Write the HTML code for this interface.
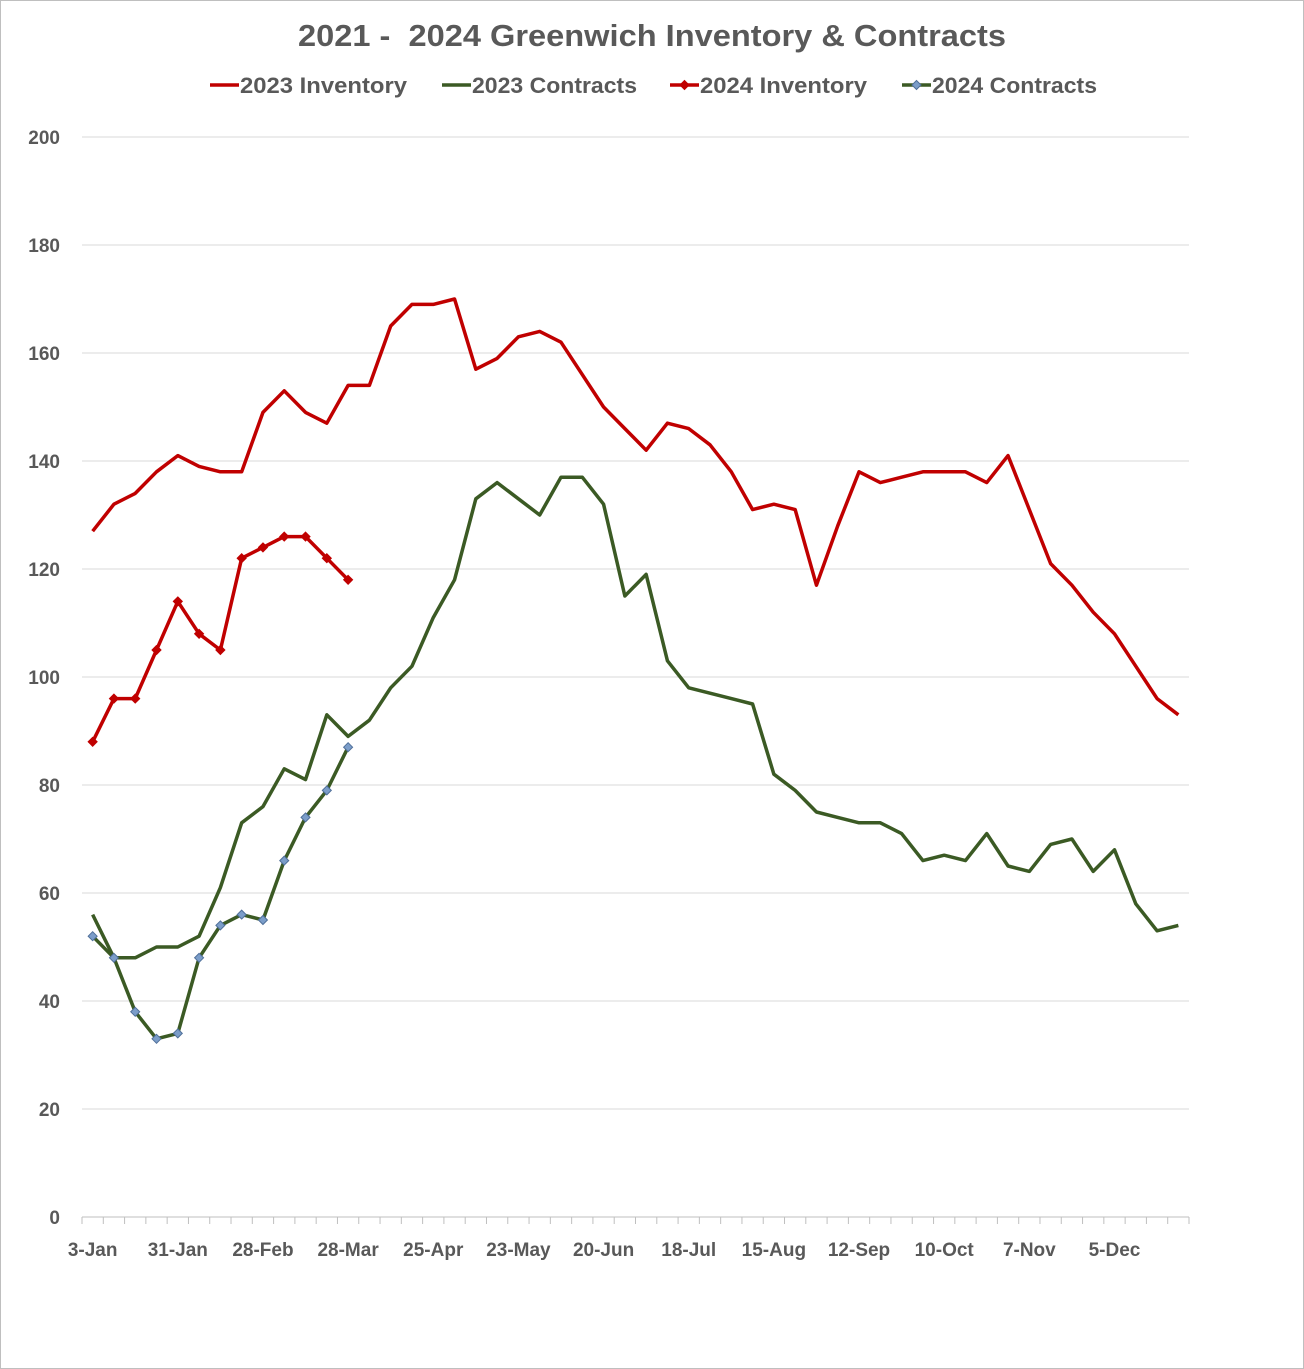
<!DOCTYPE html>
<html><head><meta charset="utf-8"><style>
html,body{margin:0;padding:0;background:#fff;}
svg{display:block;font-family:"Liberation Sans",Arial,sans-serif;}
</style></head><body>
<svg id="chart" width="1304" height="1369" viewBox="0 0 1304 1369" xmlns="http://www.w3.org/2000/svg">
<rect x="0.5" y="0.5" width="1303" height="1368" fill="#fff" stroke="#bfbfbf"/>
<text x="298" y="46" textLength="708" lengthAdjust="spacingAndGlyphs" style="white-space:pre" font-size="31" font-weight="bold" fill="#595959">2021 -  2024 Greenwich Inventory &amp; Contracts</text>
<g id="legend"></g>
<g id="grid"></g>
<g id="yaxis"></g>
<g id="xaxis"></g>
<g id="series"></g>
</svg>
<script>
const tickLabels = ["3-Jan","31-Jan","28-Feb","28-Mar","25-Apr","23-May","20-Jun","18-Jul","15-Aug","12-Sep","10-Oct","7-Nov","5-Dec"];
const yTicks = [0,20,40,60,80,100,120,140,160,180,200];
const inv2023 = [127,132,134,138,141,139,138,138,149,153,149,147,154,154,165,169,169,170,157,159,163,164,162,156,150,146,142,147,146,143,138,131,132,131,117,128,138,136,137,138,138,138,136,141,131,121,117,112,108,102,96,93];
const con2023 = [56,48,48,50,50,52,61,73,76,83,81,93,89,92,98,102,111,118,133,136,133,130,137,137,132,115,119,103,98,97,96,95,82,79,75,74,73,73,71,66,67,66,71,65,64,69,70,64,68,58,53,54];
const inv2024 = [88,96,96,105,114,108,105,122,124,126,126,122,118];
const con2024 = [52,48,38,33,34,48,54,56,55,66,74,79,87];
const nCats = 52;

const NS="http://www.w3.org/2000/svg";
const L=82,R=1189,T=137,B=1217,yMax=200;
const step=(R-L)/nCats;
const xPos=i=>L+step*(i+0.5);
const yPos=v=>B-(v/yMax)*(B-T);
function mk(tag,attrs,parent){const e=document.createElementNS(NS,tag);for(const k in attrs)e.setAttribute(k,attrs[k]);parent.appendChild(e);return e;}

const grid=document.getElementById('grid'),yaxis=document.getElementById('yaxis'),xaxis=document.getElementById('xaxis'),series=document.getElementById('series'),legend=document.getElementById('legend');
yTicks.forEach(v=>{
  if(v>0){const g=mk('line',{x1:L,x2:R,y1:yPos(v),y2:yPos(v),stroke:'#d9d9d9','stroke-width':1},grid);
  
  }
  const t=mk('text',{x:60,y:yPos(v)+7,'text-anchor':'end','font-size':19,'font-weight':'bold',fill:'#595959'},yaxis);
  t.textContent=v;
  
  
});
const ax=mk('line',{x1:L,x2:R,y1:B,y2:B,stroke:'#bfbfbf','stroke-width':1},xaxis);


for(let k=0;k<=nCats;k++){
  const tk=mk('line',{x1:L+step*k,x2:L+step*k,y1:B,y2:B+7,stroke:'#bfbfbf','stroke-width':1},xaxis);
  
  
}
tickLabels.forEach((lab,j)=>{
  const t=mk('text',{x:xPos(j*4),y:B+39,'text-anchor':'middle','font-size':19,'font-weight':'bold',fill:'#595959'},xaxis);
  t.textContent=lab;
  
  
});

function drawSeries(data,color,name,marker,mfill){
  const g=mk('g',{},series);
  
  
  const pts=data.map((v,i)=>xPos(i)+','+yPos(v)).join(' ');
  const pl=mk('polyline',{points:pts,fill:'none',stroke:color,'stroke-width':3.5,'stroke-linejoin':'round'},g);
  
  
  if(marker){data.forEach((v,i)=>{
    const x=xPos(i),y=yPos(v),s=4.5;
    const m=mk('polygon',{points:`${x},${y-s} ${x+s},${y} ${x},${y+s} ${x-s},${y}`,fill:mfill,stroke:mfill==='#7b9dc9'?'#4f6f99':color,'stroke-width':1},g);
    
    
  });}
}
drawSeries(inv2023,'#c00000','series-2023-inventory',false);
drawSeries(con2023,'#3b5a24','series-2023-contracts',false);
drawSeries(inv2024,'#c00000','series-2024-inventory',true,'#c00000');
drawSeries(con2024,'#3b5a24','series-2024-contracts',true,'#7b9dc9');

const legItems=[["2023 Inventory",'#c00000',210,null,167],["2023 Contracts",'#3b5a24',442,null,165],["2024 Inventory",'#c00000',670,'#c00000',167],["2024 Contracts",'#3b5a24',902,'#7b9dc9',165]];
legItems.forEach(([lab,c,x,mf,w])=>{
  const g=mk('g',{},legend);
  
  
  mk('line',{x1:x,x2:x+29,y1:85,y2:85,stroke:c,'stroke-width':3.5},g);
  if(mf){const cx=x+14.5,s=4.5;mk('polygon',{points:`${cx},${85-s} ${cx+s},85 ${cx},${85+s} ${cx-s},85`,fill:mf,stroke:mf==='#7b9dc9'?'#4f6f99':c,'stroke-width':1},g);}
  const t=mk('text',{x:x+30,y:93,'font-size':22,'font-weight':'bold',fill:'#595959',textLength:w,lengthAdjust:'spacingAndGlyphs'},g);
  t.textContent=lab;
});
</script>
</body></html>
